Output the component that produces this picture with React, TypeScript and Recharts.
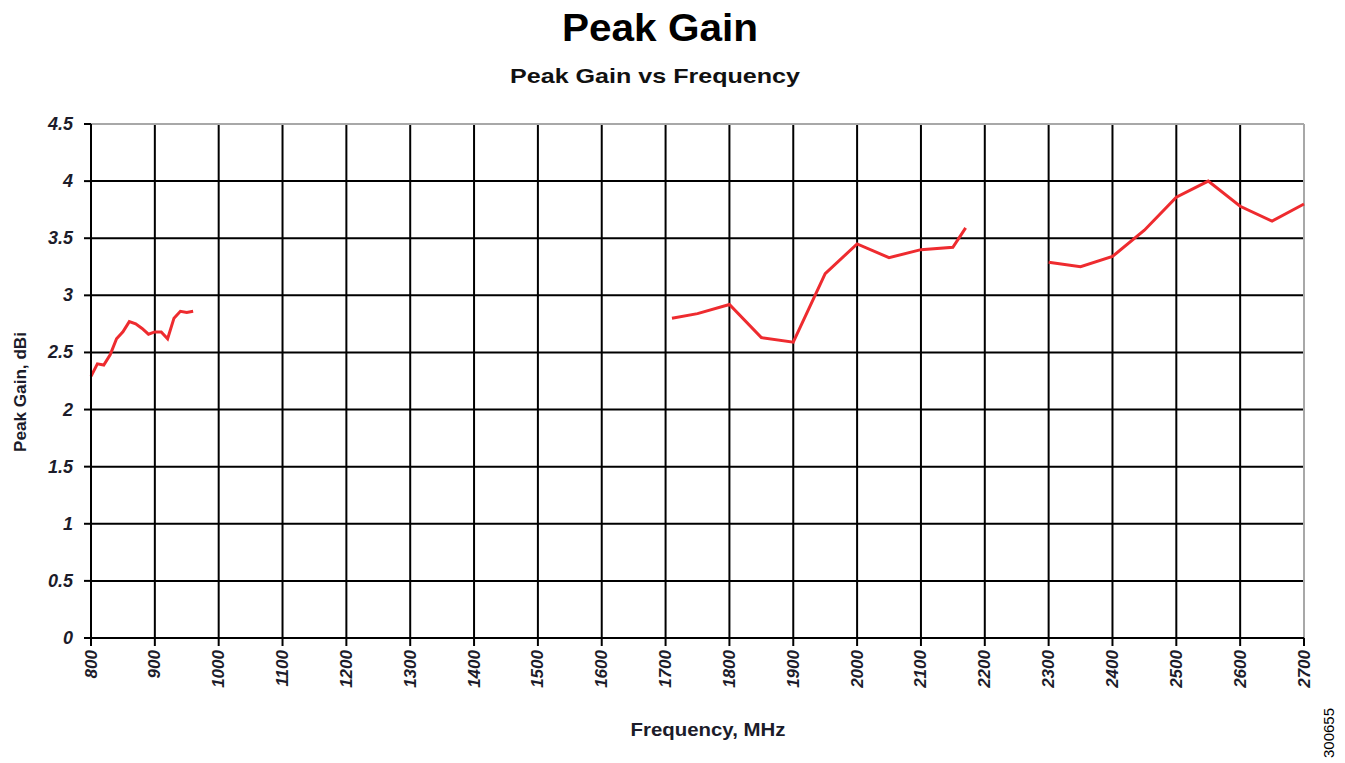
import React from "react";
import { LineChart, Line, XAxis, YAxis, CartesianGrid, ReferenceLine } from "recharts";

const segmentLow = [
  { f: 800, g: 2.29 }, { f: 810, g: 2.40 }, { f: 820, g: 2.39 }, { f: 830, g: 2.48 },
  { f: 840, g: 2.62 }, { f: 850, g: 2.68 }, { f: 860, g: 2.77 }, { f: 870, g: 2.75 },
  { f: 880, g: 2.71 }, { f: 890, g: 2.66 }, { f: 900, g: 2.68 }, { f: 910, g: 2.68 },
  { f: 920, g: 2.62 }, { f: 930, g: 2.80 }, { f: 940, g: 2.86 }, { f: 950, g: 2.85 },
  { f: 960, g: 2.86 },
];
const segmentMid = [
  { f: 1710, g: 2.80 }, { f: 1750, g: 2.84 }, { f: 1800, g: 2.92 }, { f: 1850, g: 2.63 },
  { f: 1900, g: 2.59 }, { f: 1950, g: 3.19 }, { f: 2000, g: 3.45 }, { f: 2050, g: 3.33 },
  { f: 2100, g: 3.40 }, { f: 2150, g: 3.42 }, { f: 2170, g: 3.59 },
];
const segmentHigh = [
  { f: 2300, g: 3.29 }, { f: 2350, g: 3.25 }, { f: 2400, g: 3.34 }, { f: 2450, g: 3.57 },
  { f: 2500, g: 3.86 }, { f: 2550, g: 4.00 }, { f: 2600, g: 3.78 }, { f: 2650, g: 3.65 },
  { f: 2700, g: 3.80 },
];
const xTicks = [800, 900, 1000, 1100, 1200, 1300, 1400, 1500, 1600, 1700, 1800, 1900, 2000, 2100, 2200, 2300, 2400, 2500, 2600, 2700];
const yTicks = [0, 0.5, 1, 1.5, 2, 2.5, 3, 3.5, 4, 4.5];

const FONT = "'Liberation Sans', Arial, sans-serif";
const LINE_COLOR = "#ee2b2f";
const TEXT_COLOR = "#1c1c2a";

const XTick = (props: any) => {
  const { x, y, payload } = props;
  return (
    <text
      x={x}
      y={y}
      transform={`rotate(-90 ${x} ${y})`}
      textAnchor="end"
      dominantBaseline="central"
      fontFamily={FONT}
      fontStyle="italic"
      fontWeight="bold"
      fontSize={17}
      fill={TEXT_COLOR}
    >
      {payload.value}
    </text>
  );
};

const YTick = (props: any) => {
  const { x, y, payload } = props;
  return (
    <text
      x={x}
      y={y}
      textAnchor="end"
      dominantBaseline="central"
      fontFamily={FONT}
      fontStyle="italic"
      fontWeight="bold"
      fontSize={18}
      fill={TEXT_COLOR}
    >
      {payload.value}
    </text>
  );
};

export default function App() {
  return (
    <div style={{ position: "absolute", left: 0, top: 0, width: 1345, height: 763, background: "#fff" }}>
      <LineChart
        width={1345}
        height={763}
        margin={{ top: 124, right: 41, bottom: 0, left: 0 }}
      >
        <CartesianGrid stroke="#000" strokeWidth={2} />
        <XAxis
          dataKey="f"
          type="number"
          domain={[800, 2700]}
          ticks={xTicks}
          allowDuplicatedCategory={false}
          height={125}
          tickSize={8}
          tickMargin={4}
          tick={<XTick />}
          stroke="#000"
          strokeWidth={2}
        />
        <YAxis
          type="number"
          domain={[0, 4.5]}
          ticks={yTicks}
          width={91}
          tickSize={7}
          tickMargin={11}
          tick={<YTick />}
          stroke="#000"
          strokeWidth={2}
        />
        <ReferenceLine y={4.5} stroke="#a8a8a8" strokeWidth={2} />
        <ReferenceLine x={2700} stroke="#a8a8a8" strokeWidth={2} />
        <Line data={segmentLow} dataKey="g" stroke={LINE_COLOR} strokeWidth={3} dot={false} isAnimationActive={false} />
        <Line data={segmentMid} dataKey="g" stroke={LINE_COLOR} strokeWidth={3} dot={false} isAnimationActive={false} />
        <Line data={segmentHigh} dataKey="g" stroke={LINE_COLOR} strokeWidth={3} dot={false} isAnimationActive={false} />
      </LineChart>
      <svg
        width={1345}
        height={763}
        style={{ position: "absolute", left: 0, top: 0, pointerEvents: "none" }}
      >
        <text x={660} y={41} textAnchor="middle" fontFamily={FONT} fontWeight="bold" fontSize={38} fill="#000" textLength={196} lengthAdjust="spacingAndGlyphs">
          Peak Gain
        </text>
        <text x={655} y={83} textAnchor="middle" fontFamily={FONT} fontWeight="bold" fontSize={21} fill="#111" textLength={290} lengthAdjust="spacingAndGlyphs">
          Peak Gain vs Frequency
        </text>
        <text x={708} y={736} textAnchor="middle" fontFamily={FONT} fontWeight="bold" fontSize={18} fill={TEXT_COLOR} textLength={155} lengthAdjust="spacingAndGlyphs">
          Frequency, MHz
        </text>
        <text x={26} y={392} transform="rotate(-90 26 392)" textAnchor="middle" fontFamily={FONT} fontWeight="bold" fontSize={17} fill={TEXT_COLOR} textLength={120} lengthAdjust="spacingAndGlyphs">
          Peak Gain, dBi
        </text>
        <text x={1334} y={733} transform="rotate(-90 1334 733)" textAnchor="middle" fontFamily={FONT} fontSize={15} fill="#000">
          300655
        </text>
      </svg>
    </div>
  );
}
